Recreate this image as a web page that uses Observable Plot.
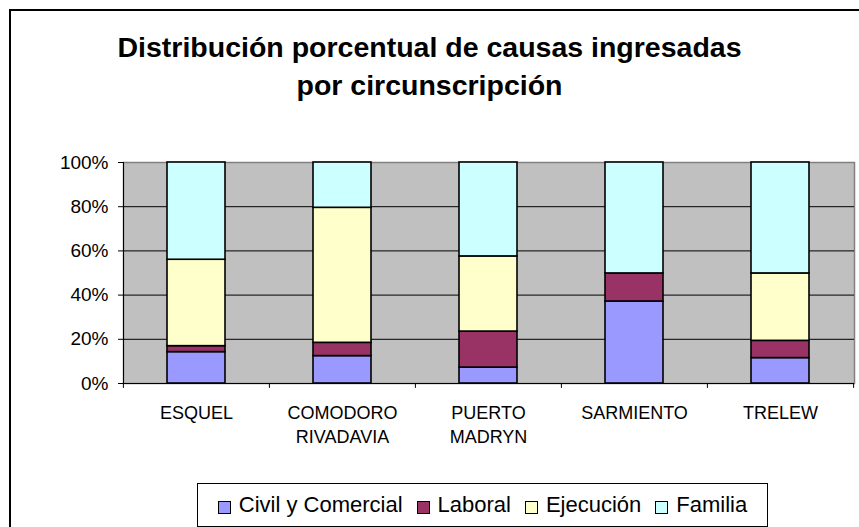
<!DOCTYPE html>
<html>
<head>
<meta charset="utf-8">
<script src="https://cdn.jsdelivr.net/npm/d3@7"></script>
<script src="https://cdn.jsdelivr.net/npm/@observablehq/plot@0.6"></script>
<style>
  html, body { margin: 0; padding: 0; background: #fff; }
  #wrap { position: relative; width: 859px; height: 527px; overflow: hidden; background: #fff;
          font-family: "Liberation Sans", Arial, sans-serif; color: #000; }
  #frame { position: absolute; left: 9px; top: 9px; width: 900px; height: 600px; border: 2px solid #000; }
  #title { position: absolute; left: 0; top: 28px; width: 859px; text-align: center;
           font-weight: bold; font-size: 28.5px; line-height: 38px; }
  #chart { position: absolute; left: 0; top: 140px; }
  #legend { position: absolute; left: 197px; top: 483px; width: 569px; height: 42px; border: 1px solid #000;
            display: flex; align-items: center; justify-content: center; font-size: 22px; background: #fff; }
  .item { display: flex; align-items: center; margin: 0 7px; }
  .sw { width: 11px; height: 11px; border: 1px solid #000; margin-right: 8px; margin-top: 4px; }
</style>
</head>
<body>
<div id="wrap">
  <div id="frame"></div>
  <div id="title">Distribución porcentual de causas ingresadas<br>por circunscripción</div>
  <div id="chart"></div>
  <div id="legend"></div>
</div>
<script>
const categories = ["ESQUEL", "COMODORO RIVADAVIA", "PUERTO MADRYN", "SARMIENTO", "TRELEW"];
const categoryLabels = ["ESQUEL", "COMODORO\nRIVADAVIA", "PUERTO\nMADRYN", "SARMIENTO", "TRELEW"];
const seriesNames = ["Civil y Comercial", "Laboral", "Ejecución", "Familia"];
const seriesColors = ["#9999FF", "#993366", "#FFFFCC", "#CCFFFF"];
const civil = [14.2, 12.4, 7.2, 37.1, 11.5];
const laboral = [2.7, 6.0, 16.3, 12.7, 7.8];
const ejecucion = [39.1, 61.1, 34.0, 0, 30.5];
const familia = [44.0, 20.5, 42.5, 50.2, 50.2];
const yTicks = [0, 0.2, 0.4, 0.6, 0.8, 1];

const seriesValues = [civil, laboral, ejecucion, familia];
const table = [];
categories.forEach((c, i) => {
  seriesNames.forEach((s, j) => {
    if (seriesValues[j][i] > 0) table.push({cat: c, series: s, value: seriesValues[j][i]});
  });
});
const labelOf = new Map(categories.map((c, i) => [c, categoryLabels[i]]));

const W = 859, ML = 123, MR = 5;
const step = (W - ML - MR) / categories.length;

const chart = Plot.plot({
  width: W,
  height: 320,
  marginLeft: ML,
  marginRight: MR,
  marginTop: 22,
  marginBottom: 77,
  style: {fontFamily: '"Liberation Sans", Arial, sans-serif', color: "#000", background: "transparent"},
  x: {domain: categories, paddingInner: 0.6, paddingOuter: 0.3, label: null},
  y: {domain: [0, 1], label: null},
  color: {domain: seriesNames, range: seriesColors},
  marks: [
    Plot.frame({fill: "#C0C0C0", stroke: "#808080", strokeWidth: 1.5}),
    Plot.gridY([0.2, 0.4, 0.6, 0.8], {stroke: "#000", strokeOpacity: 1, strokeWidth: 1}),
    Plot.barY(table, Plot.stackY({
      x: "cat", y: "value", fill: "series", order: seriesNames, offset: "normalize",
      stroke: "#000", strokeWidth: 1.6
    })),
    Plot.ruleY([0], {stroke: "#000", strokeWidth: 1}),
    Plot.frame({anchor: "left", stroke: "#000", strokeWidth: 1}),
    Plot.ruleX(categories, {x: d => d, dx: -step / 2, y1: 0, y2: -0.022, stroke: "#000"}),
    Plot.ruleX(categories.slice(-1), {x: d => d, dx: step / 2, y1: 0, y2: -0.022, stroke: "#000"}),
    Plot.axisY({ticks: yTicks, tickFormat: d3.format(".0%"), tickSize: 5, tickPadding: 10, fontSize: 19, stroke: "#000", label: null}),
    Plot.axisX({tickSize: 0, tickPadding: 19, tickFormat: d => labelOf.get(d), fontSize: 18, lineHeight: 1.3, label: null})
  ]
});
document.getElementById("chart").appendChild(chart);

const legend = document.getElementById("legend");
seriesNames.forEach((s, i) => {
  const item = document.createElement("div");
  item.className = "item";
  const sw = document.createElement("div");
  sw.className = "sw";
  sw.style.background = seriesColors[i];
  const t = document.createElement("span");
  t.textContent = s;
  item.appendChild(sw);
  item.appendChild(t);
  legend.appendChild(item);
});
</script>
</body>
</html>
